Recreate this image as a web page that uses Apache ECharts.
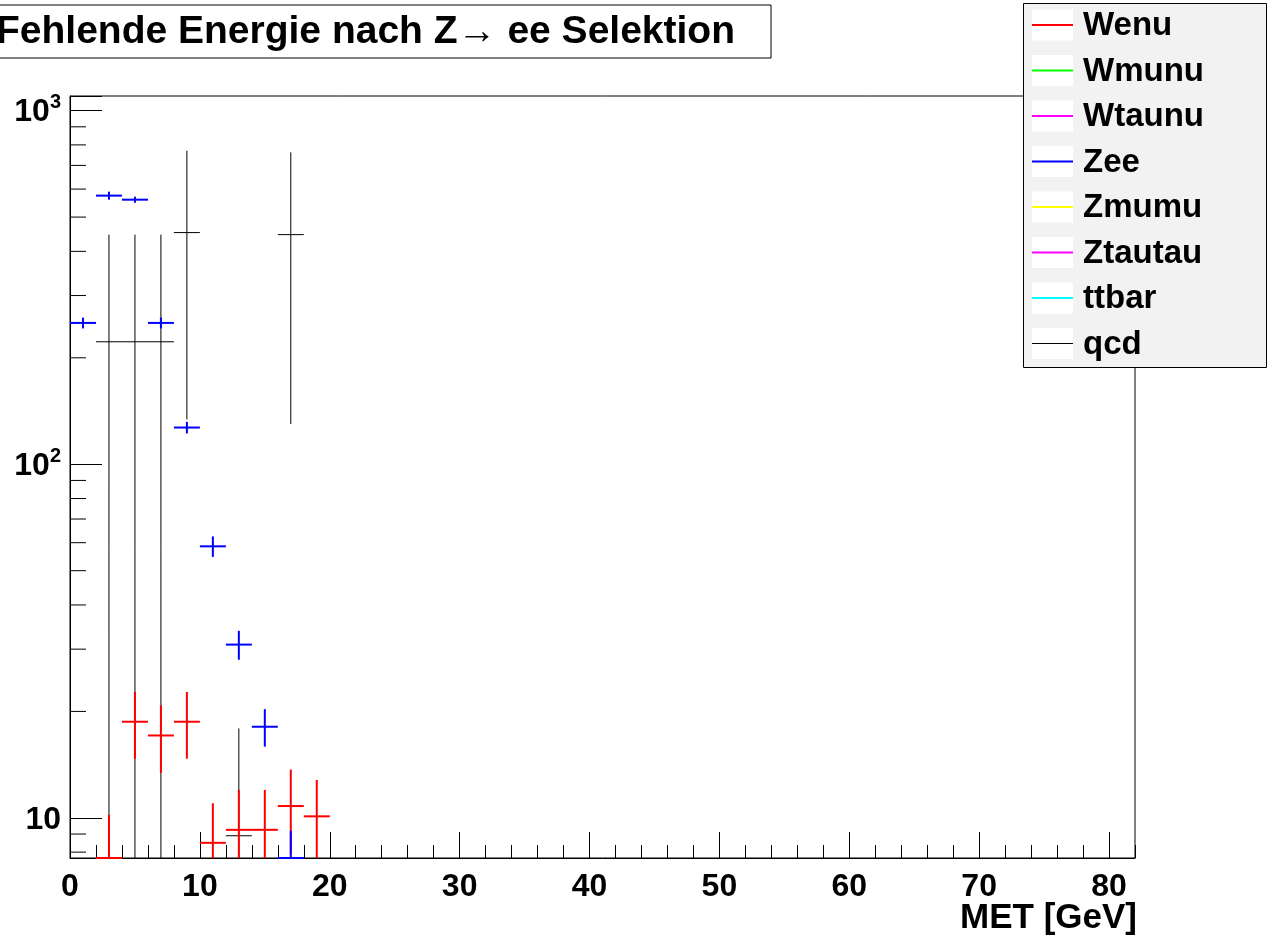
<!DOCTYPE html>
<html>
<head>
<meta charset="utf-8">
<script src="https://cdn.jsdelivr.net/npm/echarts@6/dist/echarts.min.js"></script>
<style>
  html, body { margin: 0; padding: 0; background: #fff; }
  #chart { width: 1268px; height: 942px; }
</style>
</head>
<body>
<div id="chart"></div>
<script>
// bin width 2 GeV
const BIN_W = 2;
const Y_MIN = 7.7;
const Y_MAX = 1100;
const X_MAX = 82;

const binCenters = [1, 3, 5, 7, 9, 11, 13, 15, 17, 19];

const wenuVal = [null, 6.0, 18.7, 17.1, 18.7, 8.5, 9.25, 9.25, 10.8, 10.1];
const wenuErr = [null, 4.2, 4.0, 3.7, 4.0, 2.5, 2.75, 2.75, 2.9, 2.7];

const zeeVal = [251, 575, 560, 251, 127, 58.6, 30.9, 18.1, 6.6, null];
const zeeErr = [8.8, 15, 11, 8.8, 4.8, 3.9, 2.9, 2.2, 2.6, null];

const qcdVal = [null, 222, 222, 222, 452, null, 8.9, null, 446, null];
const qcdErr = [null, 224, 224, 224, 318, null, 9.0, null, 316, null];

const emptyVal = [];

const seriesNames = ['Wenu', 'Wmunu', 'Wtaunu', 'Zee', 'Zmumu', 'Ztautau', 'ttbar', 'qcd'];
const seriesColors = ['#ff0000', '#00ff00', '#ff00ff', '#0000ff', '#ffff00', '#ff00ff', '#00ffff', '#000000'];
const seriesWidths = [2, 2, 2, 2, 2, 2, 2, 1];

const yMinorTicks = [8, 9, 20, 30, 40, 50, 60, 70, 80, 90, 200, 300, 400, 500, 600, 700, 800, 900];

const FONT = '"Liberation Sans", Arial, Helvetica, sans-serif';

function toData(vals, errs) {
  const out = [];
  binCenters.forEach(function (x, i) {
    if (vals[i] != null) out.push([x, vals[i], errs[i]]);
  });
  return out;
}

const seriesData = [
  toData(wenuVal, wenuErr),
  emptyVal,
  emptyVal,
  toData(zeeVal, zeeErr),
  emptyVal,
  emptyVal,
  emptyVal,
  toData(qcdVal, qcdErr)
];

// values outside the frame are pinned to its edge, like ROOT does
function clampY(y) {
  return Math.min(Math.max(y, Y_MIN), Y_MAX);
}

function errorBarItem(color, width) {
  return function (params, api) {
    const x = api.value(0), v = api.value(1), e = api.value(2);
    const vy = clampY(v);
    const pL = api.coord([x - BIN_W / 2, vy]);
    const pR = api.coord([x + BIN_W / 2, vy]);
    const pT = api.coord([x, clampY(v + e)]);
    const pB = api.coord([x, clampY(v - e)]);
    const style = { stroke: color, lineWidth: width };
    return {
      type: 'group',
      children: [
        { type: 'line', shape: { x1: pL[0], y1: pL[1], x2: pR[0], y2: pR[1] }, style: style },
        { type: 'line', shape: { x1: pT[0], y1: pT[1], x2: pB[0], y2: pB[1] }, style: style }
      ]
    };
  };
}

const chart = echarts.init(document.getElementById('chart'));

const series = [];
// draw qcd first so the coloured crosses sit on top
[7, 0, 1, 2, 3, 4, 5, 6].forEach(function (i) {
  series.push({
    name: seriesNames[i],
    type: 'custom',
    clip: false,
    silent: true,
    z: 3,
    renderItem: errorBarItem(seriesColors[i], seriesWidths[i]),
    data: seriesData[i]
  });
});

// short ticks of the log axis (2..9 x 10^n)
series.push({
  type: 'custom',
  silent: true,
  clip: false,
  renderItem: function (params, api) {
    const p = api.coord([0, api.value(1)]);
    return {
      type: 'line',
      shape: { x1: p[0], y1: p[1], x2: p[0] + 16, y2: p[1] },
      style: { stroke: '#000', lineWidth: 1 }
    };
  },
  data: yMinorTicks.map(function (v) { return [0, v]; })
});

// legend drawn ROOT style
const legendItems = [];
seriesNames.forEach(function (name, i) {
  const cy = 25 + i * 45.5;
  legendItems.push({
    type: 'rect',
    shape: { x: 1032, y: cy - 15.5, width: 41, height: 31 },
    style: { fill: '#fff' }
  });
  legendItems.push({
    type: 'line',
    shape: { x1: 1032, y1: cy, x2: 1073, y2: cy },
    style: { stroke: seriesColors[i], lineWidth: seriesWidths[i] }
  });
  legendItems.push({
    type: 'text',
    style: {
      text: name, x: 1083, y: cy + 1,
      fill: '#000', align: 'left', verticalAlign: 'middle',
      font: 'bold 33px ' + FONT
    }
  });
});

chart.setOption({
  backgroundColor: '#fff',
  animation: false,
  grid: {
    left: 70, top: 96, right: 133, bottom: 84,
    show: true, borderColor: '#000', borderWidth: 1, backgroundColor: '#fff'
  },
  xAxis: [{
    type: 'value', min: 0, max: X_MAX, interval: 10,
    axisLine: { show: true, lineStyle: { color: '#000', width: 1 } },
    axisTick: { show: true, inside: true, length: 26, lineStyle: { color: '#000' } },
    axisLabel: {
      color: '#000', fontSize: 32, fontWeight: 'bold', fontFamily: FONT,
      margin: 13, showMaxLabel: false
    },
    splitLine: { show: false }
  }, {
    type: 'value', min: 0, max: X_MAX, interval: 2, position: 'bottom',
    axisLine: { show: false },
    axisTick: { show: true, inside: true, length: 13, lineStyle: { color: '#000' } },
    axisLabel: { show: false },
    splitLine: { show: false }
  }],
  yAxis: {
    type: 'log', logBase: 10, min: Y_MIN, max: Y_MAX,
    axisLine: { show: true, lineStyle: { color: '#000', width: 1 } },
    axisTick: { show: true, inside: true, length: 32, lineStyle: { color: '#000' } },
    axisLabel: {
      color: '#000', margin: 9,
      formatter: function (v) {
        const p = Math.round(Math.log10(v));
        if (Math.abs(v - Math.pow(10, p)) > 1e-6 * v) return '';
        return p === 1 ? '{b|10}' : '{b|10}{s|' + p + '}';
      },
      rich: {
        b: { fontSize: 32, fontWeight: 'bold', fontFamily: FONT, color: '#000', lineHeight: 36, verticalAlign: 'bottom' },
        s: { fontSize: 20, fontWeight: 'bold', fontFamily: FONT, color: '#000', lineHeight: 20, verticalAlign: 'top' }
      }
    },
    splitLine: { show: false },
    minorTick: { show: false }
  },
  series: series,
  graphic: [
    {
      type: 'rect', z: 100,
      shape: { x: -10, y: 5, width: 781, height: 53 },
      style: { fill: '#fff', stroke: '#000', lineWidth: 1 }
    },
    {
      type: 'text', z: 101,
      style: {
        text: 'Fehlende Energie nach Z\u2192 ee Selektion',
        x: 735, y: 32, align: 'right', verticalAlign: 'middle',
        fill: '#000', font: 'bold 39px ' + FONT
      }
    },
    {
      type: 'text', z: 101,
      style: {
        text: 'MET [GeV]', x: 1137, y: 918, align: 'right', verticalAlign: 'middle',
        fill: '#000', font: 'bold 35px ' + FONT
      }
    },
    {
      type: 'group', z: 100,
      children: [{
        type: 'rect',
        shape: { x: 1023.5, y: 3.5, width: 243, height: 364 },
        style: { fill: '#f2f2f2', stroke: '#000', lineWidth: 1 }
      }].concat(legendItems)
    }
  ]
});
</script>
</body>
</html>
